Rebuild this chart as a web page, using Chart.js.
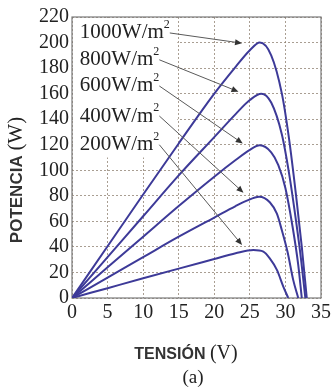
<!DOCTYPE html>
<html>
<head>
<meta charset="utf-8">
<script src="https://cdn.jsdelivr.net/npm/chart.js@4/dist/chart.umd.min.js"></script>
<style>
  html, body { margin: 0; padding: 0; background: #fff; }
  #wrap { width: 334px; height: 391px; position: relative; }
</style>
</head>
<body>
<div id="wrap"><canvas id="myChart"></canvas></div>
<script>
// curves: voltage (V) and power (W)
const volts1000 = [0, 5, 10, 15, 20, 23, 25, 26.4, 28, 29.5, 30.5, 31.5, 32.3, 33];
const power1000 = [0, 40.5, 81, 121, 160, 181, 194, 200, 190, 160, 125, 80, 40, 0];
const volts800 = [0, 5, 10, 15, 20, 23, 25, 26.6, 28, 29.5, 30.5, 31.5, 32.2, 32.8];
const power800 = [0, 32, 64, 96, 126, 144, 155, 160, 153, 128, 98, 60, 30, 0];
const volts600 = [0, 5, 10, 15, 20, 23, 25, 26.4, 28, 29, 30, 31, 31.8, 32.3];
const power600 = [0, 24, 48, 72, 95, 108, 116, 119.5, 114, 104, 86, 56, 26, 0];
const volts400 = [0, 5, 10, 15, 20, 23, 24.5, 26.3, 27.8, 28.8, 29.5, 30.3, 31.1, 31.8];
const power400 = [0, 16, 32, 48, 63, 72, 76, 79.3, 75, 66, 53, 36, 14, 0];
const volts200 = [0, 5, 10, 15, 20, 23, 25.5, 26.9, 27.8, 28.8, 29.7, 30.4];
const power200 = [0, 7.7, 15.4, 23, 30.5, 35, 37.6, 36.3, 31, 22, 9, 0];

const irradiance = ["1000W/m", "800W/m", "600W/m", "400W/m", "200W/m"];
// label anchor (left, middle) and arrow tip, in data units
const labelV = [1.1, 1.1, 1.1, 1.1, 1.1];
const labelP = [207.5, 186.5, 166, 142.5, 120];
const arrowV = [23.9, 23.4, 24.0, 24.1, 23.9];
const arrowP = [199.5, 161.5, 121, 82.5, 41.5];

const xTicks = [0, 5, 10, 15, 20, 25, 30, 35];
const yTicks = [0, 20, 40, 60, 80, 100, 120, 140, 160, 180, 200, 220];

const xTitle = ["TENSIÓN", "(V)"];
const yTitle = ["POTENCIA", "(W)"];
const caption = "(a)";

const toPoints = (vs, ps) => vs.map((v, i) => ({x: v, y: ps[i]}));
const curves = [
  toPoints(volts1000, power1000),
  toPoints(volts800, power800),
  toPoints(volts600, power600),
  toPoints(volts400, power400),
  toPoints(volts200, power200)
];

const lineColor = "#3d3a98";
const SERIF = "'Liberation Serif', 'DejaVu Serif', serif";
const SANS = "'Liberation Sans', Arial, sans-serif";

// draws a sans word followed by a serif unit, centred at (cx, cy)
const drawMixed = (ctx, parts, cx, cy, size) => {
  ctx.font = "bold " + size + "px " + SANS;
  const w1 = ctx.measureText(parts[0] + " ").width;
  ctx.font = (size + 4) + "px " + SERIF;
  const w2 = ctx.measureText(parts[1]).width;
  let x = cx - (w1 + w2) / 2;
  ctx.textBaseline = "middle";
  ctx.textAlign = "left";
  ctx.fillStyle = "#333";
  ctx.font = "bold " + size + "px " + SANS;
  ctx.fillText(parts[0] + " ", x, cy);
  ctx.fillStyle = "#222";
  ctx.font = (size + 4) + "px " + SERIF;
  ctx.fillText(parts[1], x + w1, cy - 1);
};

const extras = {
  id: "extras",
  beforeDatasetsDraw(chart) {
    const {ctx, chartArea, scales: {x, y}} = chart;
    ctx.save();
    // white patch behind the labels hides the grid there
    ctx.fillStyle = "#fff";
    ctx.fillRect(x.getPixelForValue(0) + 1, y.getPixelForValue(220) + 1,
      x.getPixelForValue(14.8) - x.getPixelForValue(0) - 1,
      y.getPixelForValue(110) - y.getPixelForValue(220) - 1);
    // solid frame
    ctx.strokeStyle = "#7a7a7a";
    ctx.lineWidth = 1.2;
    ctx.strokeRect(chartArea.left, chartArea.top, chartArea.right - chartArea.left, chartArea.bottom - chartArea.top);
    ctx.restore();
  },
  afterDatasetsDraw(chart) {
    const {ctx, scales: {x, y}} = chart;
    ctx.save();
    ctx.fillStyle = "#222";
    for (let i = 0; i < irradiance.length; i++) {
      const lx = x.getPixelForValue(labelV[i]);
      const ly = y.getPixelForValue(labelP[i]);
      ctx.font = "21px " + SERIF;
      ctx.textBaseline = "middle";
      ctx.textAlign = "left";
      ctx.fillStyle = "#222";
      ctx.fillText(irradiance[i], lx, ly);
      const w = ctx.measureText(irradiance[i]).width;
      ctx.font = "12px " + SERIF;
      ctx.fillText("2", lx + w, ly - 8);
      // arrow
      const sx = lx + w + 6, sy = ly;
      const tx = x.getPixelForValue(arrowV[i]);
      const ty = y.getPixelForValue(arrowP[i]);
      const ang = Math.atan2(ty - sy, tx - sx);
      ctx.strokeStyle = "#5a5a5a";
      ctx.lineWidth = 1;
      ctx.beginPath();
      ctx.moveTo(sx, sy);
      ctx.lineTo(tx - 6 * Math.cos(ang), ty - 6 * Math.sin(ang));
      ctx.stroke();
      ctx.fillStyle = "#333";
      ctx.beginPath();
      ctx.moveTo(tx, ty);
      ctx.lineTo(tx - 7 * Math.cos(ang) + 3 * Math.sin(ang), ty - 7 * Math.sin(ang) - 3 * Math.cos(ang));
      ctx.lineTo(tx - 7 * Math.cos(ang) - 3 * Math.sin(ang), ty - 7 * Math.sin(ang) + 3 * Math.cos(ang));
      ctx.closePath();
      ctx.fill();
    }
    // axis titles and caption
    drawMixed(ctx, xTitle, 186, 355, 16);
    ctx.save();
    ctx.translate(17, 180);
    ctx.rotate(-Math.PI / 2);
    drawMixed(ctx, yTitle, 0, 0, 17);
    ctx.restore();
    ctx.fillStyle = "#222";
    ctx.font = "19px " + SERIF;
    ctx.textAlign = "center";
    ctx.textBaseline = "middle";
    ctx.fillText(caption, 193, 378);
    ctx.restore();
  }
};

const gridStyle = {color: "rgba(140,125,110,0.75)", lineWidth: 1, drawTicks: false};

const chart = new Chart("myChart", {
  type: "line",
  data: {
    datasets: curves.map((pts, i) => ({
      label: irradiance[i] + "2",
      data: pts,
      borderColor: lineColor,
      borderWidth: 2,
      pointRadius: 0,
      fill: false,
      cubicInterpolationMode: "monotone"
    }))
  },
  options: {
    responsive: true,
    maintainAspectRatio: false,
    animation: false,
    layout: {padding: {left: 0, right: 13, top: 17, bottom: 0}},
    plugins: {legend: {display: false}, tooltip: {enabled: false}},
    scales: {
      x: {
        type: "linear",
        min: 0,
        max: 35,
        afterBuildTicks: s => { s.ticks = xTicks.map(v => ({value: v})); },
        afterFit: s => { s.height = 93; },
        grid: gridStyle,
        border: {display: false, dash: [2, 2]},
        ticks: {padding: 3, autoSkip: false, maxRotation: 0, color: "#222", font: {family: SERIF, size: 20}}
      },
      y: {
        min: 0,
        max: 220,
        afterBuildTicks: s => { s.ticks = yTicks.map(v => ({value: v})); },
        afterFit: s => { s.width = 72; },
        grid: gridStyle,
        border: {display: false, dash: [2, 2]},
        ticks: {padding: 3, autoSkip: false, color: "#222", font: {family: SERIF, size: 20}}
      }
    }
  },
  plugins: [extras]
});
</script>
</body>
</html>
